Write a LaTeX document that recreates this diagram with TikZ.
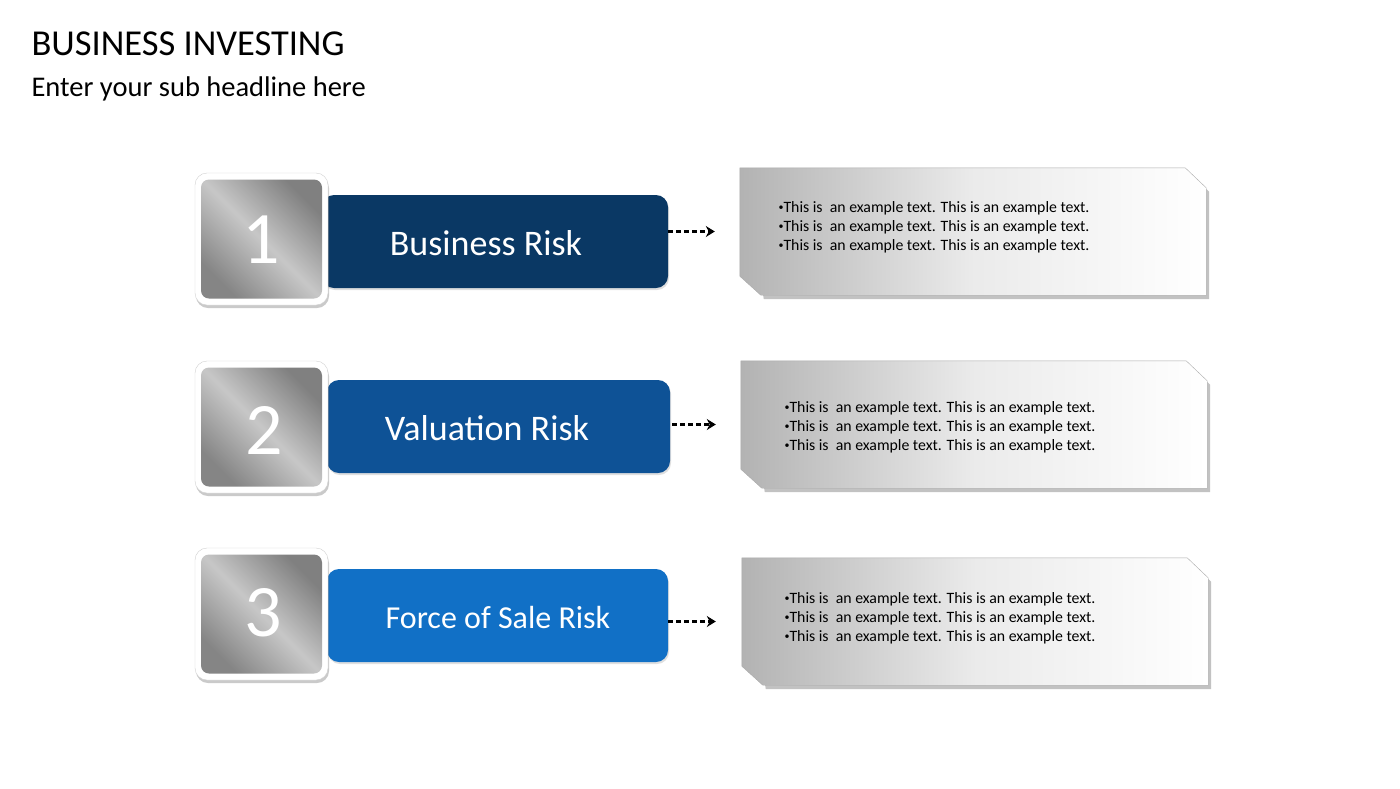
\documentclass[tikz,border=0pt]{standalone}
\usepackage{fontspec}
\setmainfont{Carlito}
\usetikzlibrary{arrows.meta,shadows,calc}
\definecolor{riskdark}{RGB}{10,56,100}
\definecolor{riskmid}{RGB}{14,82,150}
\definecolor{risklight}{RGB}{17,112,198}
\definecolor{boxline}{RGB}{170,170,170}
\newcommand{\dotmark}{\raisebox{0.25ex}{\fontsize{10}{10}\selectfont\textbullet}}
\tikzset{
  frame/.style={draw=black!18, fill=white, rounded corners=12pt, minimum width=133pt, minimum height=132pt, inner sep=0pt,
    drop shadow={shadow xshift=1pt, shadow yshift=-3pt, opacity=0.35, fill=black!60}},
  metal/.style={rounded corners=8pt, minimum width=121pt, minimum height=119pt, inner sep=0pt,
    left color=black!48, right color=black!50, middle color=black!22, shading angle=135},
  numtext/.style={text=white, font=\fontsize{74}{80}\selectfont},
  bar/.style={rounded corners=12pt, minimum height=93pt, inner sep=0pt,
    drop shadow={shadow xshift=1pt, shadow yshift=-2pt, opacity=0.25}},
  bartext/.style={text=white, font=\fontsize{36}{42}\selectfont},
  infobox/.style={minimum width=466pt, minimum height=127pt, inner sep=0pt},
  infotext/.style={anchor=west, align=left, font=\fontsize{15.8}{19}\selectfont},
  dasharrow/.style={line width=2.4pt, dash pattern=on 5pt off 3pt, -{Stealth[length=9pt, width=11pt]}}
}
\newcommand{\chamfer}[1]{(#1.north west) -- ([xshift=-21pt]#1.north east) -- ([yshift=-20pt]#1.north east)
  -- (#1.south east) -- ([xshift=21pt]#1.south west) -- ([yshift=19pt]#1.south west) -- cycle}
\begin{document}
\begin{tikzpicture}[x=1pt, y=-1pt]
\useasboundingbox (0,0) rectangle (1400,788);
\node[anchor=base west, font=\fontsize{36.5}{42}\selectfont] (title) at (28,55) {BUSINESS INVESTING};
\node[anchor=base west, font=\fontsize{28.5}{34}\selectfont] (subtitle) at (28,96) {Enter your sub headline here};

\node[bar, fill=riskdark, minimum width=346pt] (bar1) at (495,241.5) {};
\node[bar, fill=riskmid, minimum width=343pt] (bar2) at (498.5,426.5) {};
\node[bar, fill=risklight, minimum width=341pt] (bar3) at (497.5,615.5) {};
\node[bartext] (lab1) at (486,243) {Business Risk};
\node[bartext] (lab2) at (487,428) {Valuation Risk};
\node[bartext, font=\fontsize{32}{38}\selectfont] (lab3) at (498,617) {Force of Sale Risk};

\node[frame] (sq1) at (261.5,239) {};
\node[frame] (sq2) at (261.5,427) {};
\node[frame] (sq3) at (261.5,614) {};
\node[metal] (in1) at (sq1) {};
\node[metal] (in2) at (sq2) {};
\node[metal] (in3) at (sq3) {};
\node[numtext] (n1) at (261,240) {1};
\node[numtext] (n2) at (264,430) {2};
\node[numtext] (n3) at (263,613) {3};

\node[infobox] (box1) at (973,231.5) {};
\node[infobox] (box2) at (974,424.5) {};
\node[infobox] (box3) at (975,621.5) {};
\fill[black!40, opacity=0.6] ([shift={(3pt,-4pt)}]box1.north west) -- ([shift={(-18pt,-4pt)}]box1.north east) -- ([shift={(3pt,-24pt)}]box1.north east) -- ([shift={(3pt,-4pt)}]box1.south east) -- ([shift={(24pt,-4pt)}]box1.south west) -- cycle;
\fill[black!40, opacity=0.6] ([shift={(3pt,-4pt)}]box2.north west) -- ([shift={(-18pt,-4pt)}]box2.north east) -- ([shift={(3pt,-24pt)}]box2.north east) -- ([shift={(3pt,-4pt)}]box2.south east) -- ([shift={(24pt,-4pt)}]box2.south west) -- cycle;
\fill[black!40, opacity=0.6] ([shift={(3pt,-4pt)}]box3.north west) -- ([shift={(-18pt,-4pt)}]box3.north east) -- ([shift={(3pt,-24pt)}]box3.north east) -- ([shift={(3pt,-4pt)}]box3.south east) -- ([shift={(24pt,-4pt)}]box3.south west) -- cycle;
\draw[boxline, left color=black!30, right color=white, middle color=black!8] \chamfer{box1};
\draw[boxline, left color=black!30, right color=white, middle color=black!8] \chamfer{box2};
\draw[boxline, left color=black!30, right color=white, middle color=black!8] \chamfer{box3};
\node[infotext] (txt1) at (775,227) {\dotmark This is\ \ an example text. This is an example text.\\\dotmark This is\ \ an example text. This is an example text.\\\dotmark This is\ \ an example text. This is an example text.};
\node[infotext] (txt2) at (781,427) {\dotmark This is\ \ an example text. This is an example text.\\\dotmark This is\ \ an example text. This is an example text.\\\dotmark This is\ \ an example text. This is an example text.};
\node[infotext] (txt3) at (781,618) {\dotmark This is\ \ an example text. This is an example text.\\\dotmark This is\ \ an example text. This is an example text.\\\dotmark This is\ \ an example text. This is an example text.};

\coordinate (tip1) at ([xshift=-25pt]box1.west);
\coordinate (tip2) at ([xshift=-25pt]box2.west);
\coordinate (tip3) at ([xshift=-26pt]box3.west);
\draw[dasharrow] (bar1.east |- box1.west) -- (tip1);
\draw[dasharrow] ([xshift=2pt]bar2.east |- box2.west) -- (tip2);
\draw[dasharrow] (bar3.east |- box3.west) -- (tip3);
\end{tikzpicture}
\end{document}
